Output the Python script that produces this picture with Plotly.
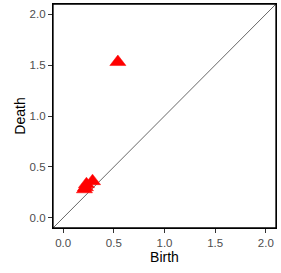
import plotly.graph_objects as go

birth = [0.21, 0.23, 0.22, 0.29, 0.54]
death = [0.28, 0.33, 0.30, 0.36, 1.53]
axis_limits = [-0.1, 2.1]
tick_vals = [0.0, 0.5, 1.0, 1.5, 2.0]
tick_text = ["0.0", "0.5", "1.0", "1.5", "2.0"]

fig = go.Figure()
fig.add_trace(go.Scatter(x=axis_limits, y=axis_limits, mode="lines",
                         line=dict(color="black", width=0.6), hoverinfo="skip", showlegend=False))
fig.add_trace(go.Scatter(x=birth, y=death, mode="markers",
                         marker=dict(symbol="triangle-up", size=14, color="#FF0000",
                                     line=dict(width=0.5, color="#FF0000")), showlegend=False))

axis_common = dict(range=axis_limits, tickvals=tick_vals, ticktext=tick_text,
                   showgrid=False, zeroline=False, showline=True, mirror=True,
                   linecolor="black", linewidth=1.3, ticks="outside", ticklen=4,
                   tickcolor="#333333", tickwidth=1,
                   tickfont=dict(family="Liberation Sans, Arial", size=11.5, color="#4D4D4D"))

fig.update_layout(
    width=281, height=273,
    margin=dict(l=53, r=5, t=4, b=45),
    paper_bgcolor="white", plot_bgcolor="white",
    xaxis=dict(**axis_common, title=dict(text="Birth", standoff=4,
               font=dict(family="Liberation Sans, Arial", size=14, color="black"))),
    yaxis=dict(**axis_common, title=dict(text="Death", standoff=0,
               font=dict(family="Liberation Sans, Arial", size=14, color="black"))),
    shapes=[dict(type="rect", xref="paper", yref="paper", x0=0, y0=0, x1=1, y1=1,
                 line=dict(color="black", width=1.3), layer="above")],
)
fig.write_html("out.html", config={"displayModeBar": False},
               post_script="document.body.style.margin='0';document.body.style.overflow='hidden';")
